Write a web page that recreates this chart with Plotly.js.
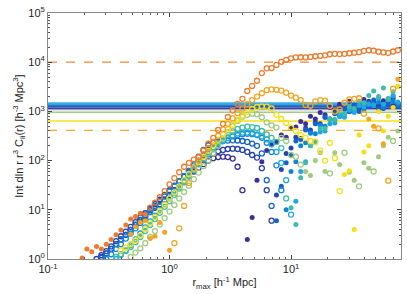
<!DOCTYPE html>
<html><head><meta charset="utf-8">
<script src="https://cdn.plot.ly/plotly-3.0.1.min.js"></script>
<style>html,body{margin:0;padding:0;background:#fff;}#chart{width:407px;height:294px;}</style>
</head><body><div id="chart"></div>
<script>
// r_max bin centres [h^-1 Mpc]
const R = [0.191,0.209,0.229,0.251,0.275,0.302,0.331,0.363,0.398,0.437,
0.479,0.525,0.575,0.631,0.692,0.759,0.832,0.912,1.0,1.096,
1.202,1.318,1.445,1.585,1.738,1.905,2.089,2.291,2.512,2.754,
3.020,3.311,3.631,3.981,4.365,4.786,5.248,5.754,6.310,6.918,
7.586,8.318,9.120,10.0,10.96,12.02,13.18,14.45,15.85,17.38,
19.05,20.89,22.91,25.12,27.54,30.20,33.11,36.31,39.81,43.65,
47.86,52.48,57.54,63.10,69.18,75.86];

// values: positive = open circle, negative = filled circle (|value| plotted)
const purple = [null,null,null,null,1.1,1.3,1.6,2.0,2.5,3.1,
3.9,5.0,6.2,7.5,9.0,11,13,16,20,25,
31,38,48,60,72,85,100,112,118,120,
118,110,75,25,-2.5,-7,-40,-95,-160,-210,
-240,-330,-300,-450,-480,-620,-560,-800,-700,-950,
-850,-1200,-1050,-1400,-1200,-1600,-1250,-1500,-1750,-1350,
-1500,-1200,-1650,-1800,-1300,-1450];
const darkblue = [null,null,null,1.0,1.2,1.45,1.8,2.3,2.9,3.6,
4.5,5.6,7.0,8.5,10.5,13,16,20,25,31,
38,47,58,72,88,105,122,140,155,165,
172,175,172,165,150,130,115,70,25,6,
-20,-66,-140,-180,-300,-280,-460,-420,-600,-560,
-780,-700,-950,-820,-1100,-1000,-1350,-1150,-1250,-1600,
-1450,-1300,-1150,-1550,-1800,-1400];
const blue = [null,null,null,null,1.05,1.3,1.6,2.0,2.5,3.1,
3.9,4.9,6.2,7.8,9.8,12,15,19,24,30,
38,48,62,85,120,165,205,230,242,250,
255,258,256,250,240,222,200,140,40,12,
-6,-30,-90,-130,-250,-270,-420,-380,-560,-520,
-750,-700,-900,-850,-1150,-980,-1300,-1000,-1350,-1250,
-1700,-1150,-1250,-1350,-2000,-1250];
const azure = [null,null,null,null,null,1.0,1.25,1.6,2.0,2.6,
3.3,4.2,5.4,7.0,9.0,11.5,14.5,18.5,23.5,30,
38,49,62,80,100,125,155,185,220,255,
285,310,330,345,350,345,330,290,230,150,
80,25,-10,-60,-95,-200,-230,-360,-350,-520,
-500,-700,-680,-900,-880,-1150,-1050,-1350,-1100,-1450,
-1400,-1550,-1200,-1750,-1600,-1400];
const lightblue = [null,null,null,null,null,null,null,1.0,1.2,1.5,
1.9,2.5,3.3,4.4,5.8,7.6,10,13,17,22,
29,38,50,65,84,108,135,170,210,250,
290,325,355,370,372,360,340,310,270,215,
150,90,40,8,-15,-60,-95,-200,-230,-380,
-400,-560,-580,-780,-760,-1050,-950,-1300,-1250,-1400,
-1350,-1850,-1400,-1700,-2100,-1550];
const teal = [null,null,null,null,null,null,null,1.1,1.25,1.45,
1.75,2.2,2.8,3.7,4.9,6.5,8.7,11.5,15,20,
27,36,48,64,85,112,145,185,230,280,
330,400,440,470,490,480,460,400,340,290,
240,180,17,-11,-5,-45,-90,-200,-250,-450,
-450,-700,-680,-950,-900,-1250,-1150,-1600,-1500,-2100,
-2600,-2000,-3000,-1800,-2500,-3200];
const green = [null,null,null,null,null,null,null,null,null,null,
1.1,1.35,1.65,2.1,2.8,3.7,5.0,6.8,9.2,12.5,
17,23,31,42,57,77,102,140,200,280,
380,500,640,780,850,900,880,760,600,520,
470,290,250,130,120,83,-60,-50,-100,-145,
-60,55,-145,-83,145,-58,-40,30,-90,-70,
60,-120,-200,-300,250,-400];
const yellow = [null,null,null,null,null,null,null,null,1.5,1.7,
2.0,2.4,3.0,4.0,5.3,7.1,9.5,12.7,17,22.5,
30,40,53,70,92,120,158,205,265,340,
430,540,670,820,980,1120,1230,1260,1250,1150,
850,700,580,470,400,330,290,250,240,160,
100,230,112,24,-52,-62,-4,-330,-150,-200,
-500,-1000,-400,-800,-1200,-3200];
const lightorange = [null,null,null,null,null,null,null,null,null,null,
-3.2,-4.5,-5.5,-6.0,-2.6,-2.9,-5.5,-3.5,-1.5,2.1,
4.2,12,35,70,100,135,180,240,320,430,
560,720,920,1150,1400,1700,2000,2350,2700,2800,
2750,2650,2400,2100,1900,1700,1350,1300,1600,1700,
1650,1300,1000,1100,1500,1750,1800,1850,900,-700,
-500,450,-220,39,2900,-4500];
const orangered = [-1.05,-1.6,-1.4,-1.8,-1.6,-2.0,-2.5,-3.1,-3.9,-4.9,
-6.5,-7.3,-8.5,-8,11,14,18,24,33,44,
58,75,90,105,117,160,220,290,420,560,
770,1050,1420,1800,2600,3300,4200,6000,7500,7600,
8800,10200,11200,12000,12500,12600,12500,12800,13200,13500,
13800,14500,14800,14600,14800,15200,15600,16000,17000,17500,
17200,16300,15800,15500,16500,17500];

// reference levels
const LEVELS = [10000, 1460, 1330, 1240, 1160, 1080, 960, 640, 410];

const SERIES = [
  {values: purple, color: '#3d2f98'},
  {values: darkblue, color: '#2643b0'},
  {values: blue, color: '#1463cc'},
  {values: azure, color: '#0c86d9'},
  {values: lightblue, color: '#1ea8e2'},
  {values: teal, color: '#3dbcad'},
  {values: green, color: '#9ecb7d'},
  {values: yellow, color: '#f7df16'},
  {values: lightorange, color: '#f5a422'},
  {values: orangered, color: '#f07a2b'}
];
const LEVEL_STYLES = [
  {color:'#f4873a', dash:'dash', width:1.3},
  {color:'#35aee6', dash:'solid', width:2},
  {color:'#1a7fd4', dash:'solid', width:2},
  {color:'#1660c0', dash:'solid', width:1.5},
  {color:'#32409c', dash:'solid', width:1.5},
  {color:'#8a86b4', dash:'solid', width:1},
  {color:'#a2cc82', dash:'solid', width:1.5},
  {color:'#f5e31a', dash:'solid', width:1.5},
  {color:'#f7a928', dash:'dash', width:1.3}
];

const traces = [];
SERIES.forEach(s => {
  const xo=[],yo=[],xf=[],yf=[];
  s.values.forEach((v,i) => {
    if (v === null) return;
    if (v > 0) { xo.push(R[i]); yo.push(v); } else { xf.push(R[i]); yf.push(-v); }
  });
  traces.push({x:xf, y:yf, type:'scatter', mode:'markers', hoverinfo:'skip',
    marker:{symbol:'circle', size:5, color:s.color, line:{width:0}}});
  traces.push({x:xo, y:yo, type:'scatter', mode:'markers', hoverinfo:'skip',
    marker:{symbol:'circle-open', size:5, color:s.color, line:{width:1.3, color:s.color}}});
});

const shapes = LEVELS.map((v,i) => ({type:'line', xref:'paper', x0:0, x1:1, yref:'y', y0:v, y1:v,
  layer:'below', line:{color:LEVEL_STYLES[i].color, width:LEVEL_STYLES[i].width, dash:LEVEL_STYLES[i].dash}}));

const xMinor=[], yMinor=[];
[0.1,1,10].forEach(d => {for(let k=2;k<=9;k++) xMinor.push(k*d);});
[1,10,100,1000,10000].forEach(d => {for(let k=2;k<=9;k++) yMinor.push(k*d);});

const font = {family:'Liberation Sans, Arial, sans-serif', size:11, color:'#222'};
const layout = {
  width:407, height:294,
  margin:{l:48, r:6, t:13, b:35},
  paper_bgcolor:'#fff', plot_bgcolor:'#fff',
  showlegend:false, font:font, shapes:shapes,
  xaxis:{type:'log', range:[-1, 1.905], tickmode:'array', tickvals:[0.1,1,10],
    ticktext:['10<sup>-1</sup>','10<sup>0</sup>','10<sup>1</sup>'],
    ticks:'inside', ticklen:4, tickcolor:'#444', showline:true, linecolor:'#888', linewidth:1,
    mirror:'ticks', showgrid:false, zeroline:false,
    minor:{tickmode:'array', tickvals:xMinor, ticks:'inside', ticklen:2, tickcolor:'#555', showgrid:false},
    title:{text:'r<sub>max</sub> [h<sup>-1</sup> Mpc]', font:font, standoff:4}},
  yaxis:{type:'log', range:[0,5], tickmode:'array', tickvals:[1,10,100,1000,10000,100000],
    ticktext:['10<sup>0</sup>','10<sup>1</sup>','10<sup>2</sup>','10<sup>3</sup>','10<sup>4</sup>','10<sup>5</sup>'],
    ticks:'inside', ticklen:4, tickcolor:'#444', showline:true, linecolor:'#888', linewidth:1,
    mirror:'ticks', showgrid:false, zeroline:false,
    minor:{tickmode:'array', tickvals:yMinor, ticks:'inside', ticklen:2, tickcolor:'#555', showgrid:false},
    title:{text:'Int dln r r<sup>3</sup> C<sub>ii</sub>(r) [h<sup>-3</sup> Mpc<sup>3</sup>]', font:font, standoff:2}}
};
Plotly.newPlot('chart', traces, layout, {staticPlot:true, displayModeBar:false});
</script></body></html>
